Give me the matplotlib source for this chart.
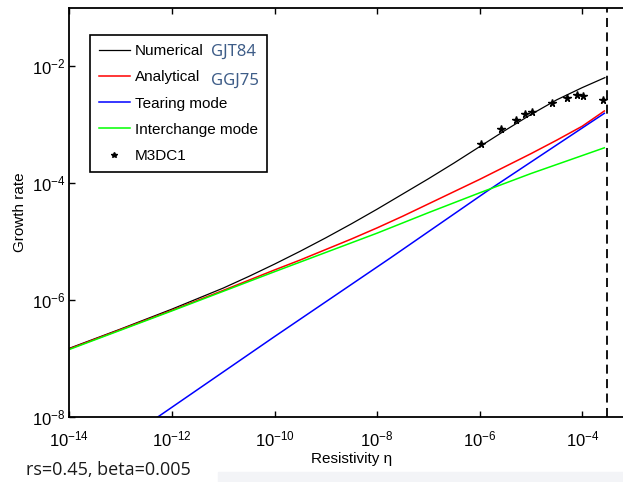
import numpy as np
import matplotlib
matplotlib.use("Agg")
from matplotlib import pyplot as plt
from matplotlib.patches import Rectangle

plt.rcParams["font.family"] = ["Liberation Sans", "DejaVu Sans"]
plt.rcParams["mathtext.fontset"] = "custom"
plt.rcParams["mathtext.rm"] = "Liberation Sans"
plt.rcParams["mathtext.it"] = "Liberation Sans:italic"
plt.rcParams["mathtext.bf"] = "Liberation Sans:bold"

# curves, stored as log10 values
num_x = [-14, -13, -12, -11.5, -11, -10.5, -10, -9.5, -9, -8.5, -8, -7.5, -7,
         -6.5, -6, -5.5, -5, -4.5, -4, -3.56]
num_y = [-6.83, -6.50, -6.16, -5.98, -5.80, -5.60, -5.39, -5.17, -4.94, -4.70,
         -4.45, -4.19, -3.93, -3.66, -3.38, -3.10, -2.83, -2.58, -2.37, -2.20]

ana_x = [-14, -13, -12, -11, -10, -9.5, -9, -8.5, -8, -7.5, -7, -6.5, -6,
         -5.5, -5, -4.5, -4, -3.57]
ana_y = [-6.84, -6.51, -6.18, -5.84, -5.49, -5.32, -5.14, -4.96, -4.77, -4.57,
         -4.36, -4.15, -3.94, -3.72, -3.50, -3.27, -3.03, -2.77]

tear_x = [-12.3, -10, -7.75, -5.87, -4.24, -3.57]
tear_y = [-8.02, -6.63, -5.29, -4.15, -3.20, -2.81]

inter_x = [-14, -12, -10, -9, -8, -7, -6, -5, -3.57]
inter_y = [-6.85, -6.19, -5.52, -5.19, -4.86, -4.51, -4.17, -3.84, -3.40]

m3dc1_x = [-5.98, -5.59, -5.29, -5.12, -4.99, -4.60, -4.29, -4.11, -3.98, -3.59]
m3dc1_y = [-3.33, -3.07, -2.92, -2.82, -2.79, -2.63, -2.55, -2.49, -2.52, -2.59]

eta_limit = 3.0e-4

W, H = 623, 482
fig = plt.figure(figsize=(W / 100, H / 100), dpi=100)
# right edge of the axes sits just outside the picture, like the cropped original
ax = fig.add_axes([69.3 / W, 1 - 416.7 / H, (633.6 - 69.3) / W, (416.7 - 7.5) / H])

def pw(v):
    return 10.0 ** np.asarray(v)

lw = 1.1
ax.plot(pw(num_x), pw(num_y), color="black", lw=0.9, label="Numerical")
ax.plot(pw(ana_x), pw(ana_y), color="#ff0000", lw=lw, label="Analytical")
ax.plot(pw(tear_x), pw(tear_y), color="#0000ff", lw=lw, label="Tearing mode")
ax.plot(pw(inter_x), pw(inter_y), color="#00ff00", lw=lw, label="Interchange mode")
ax.plot(pw(m3dc1_x), pw(m3dc1_y), ls="none", marker="*", ms=5.5, color="black",
        label="M3DC1")
ax.axvline(eta_limit, color="black", lw=1.3, ls=(0, (5, 3)))

ax.set_xscale("log")
ax.set_yscale("log")
ax.set_xlim(1e-14, 1e-3)
ax.set_ylim(1e-8, 1e-1)
ax.set_xticks([1e-14, 1e-12, 1e-10, 1e-8, 1e-6, 1e-4])
ax.set_yticks([1e-8, 1e-6, 1e-4, 1e-2])
ax.minorticks_off()
ax.tick_params(direction="in", length=4, width=1, top=True, labelsize=12)
ax.tick_params(axis="x", pad=9)
ax.tick_params(axis="y", pad=3)
for sp in ax.spines.values():
    sp.set_linewidth(1.3)

ax.set_xlabel("Resistivity \u03b7", fontsize=11, labelpad=2)
ax.set_ylabel("Growth rate", fontsize=11, labelpad=3)

leg = ax.legend(loc="upper left", bbox_to_anchor=(90 / W, 1 - 35 / H),
                bbox_transform=fig.transFigure, borderaxespad=0,
                fontsize=11, handlelength=2.0, handletextpad=0.35,
                labelspacing=0.8, borderpad=0.6, fancybox=False,
                framealpha=1, edgecolor="black", markerscale=0.8)
leg.get_frame().set_linewidth(1.2)

ref_color = "#3e5d88"
fig.text(211 / W, 1 - 52 / H, "GJT84", color=ref_color, fontsize=12,
         family="Noto Sans", va="center", ha="left")
fig.text(211 / W, 1 - 81 / H, "GGJ75", color=ref_color, fontsize=12,
         family="Noto Sans", va="center", ha="left")

fig.text(26 / W, 1 - 470 / H, "rs=0.45, beta=0.005", fontsize=13,
         family="Open Sans", va="center", ha="left", color="#1a1a1a")

fig.patches.append(Rectangle((218 / W, 0), 1, 10 / H, transform=fig.transFigure,
                             color="#f3f4f7", zorder=-5))

fig.savefig("out.png", dpi=100)
